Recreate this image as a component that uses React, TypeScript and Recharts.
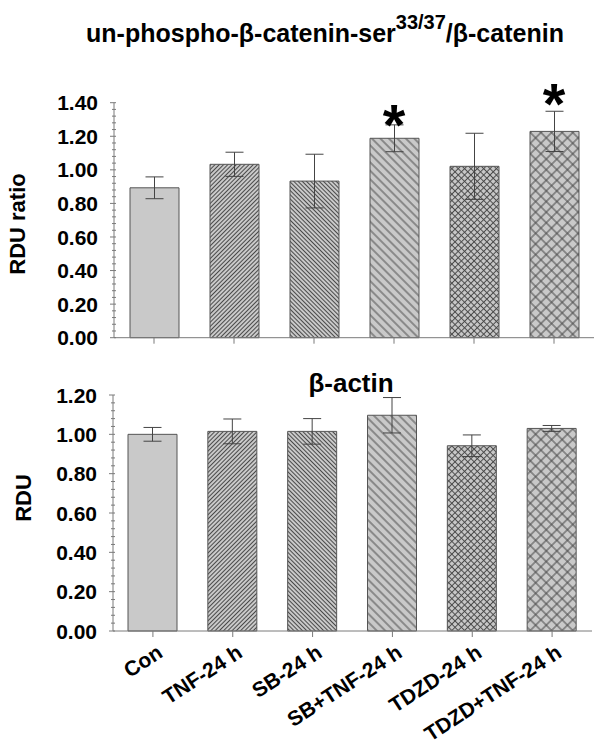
import React from 'react';
import { BarChart, Bar, XAxis, YAxis, Cell, ErrorBar, ReferenceDot } from 'recharts';

const categories = ['Con', 'TNF-24 h', 'SB-24 h', 'SB+TNF-24 h', 'TDZD-24 h', 'TDZD+TNF-24 h'];
const ratioMean = [0.893, 1.033, 0.933, 1.188, 1.021, 1.229];
const ratioErr = [0.065, 0.072, 0.16, 0.08, 0.197, 0.12];
const starPos = [null, null, null, 1.346, null, 1.469];
const actinMean = [1.0, 1.015, 1.015, 1.097, 0.942, 1.03];
const actinErr = [0.035, 0.063, 0.065, 0.09, 0.055, 0.015];
const topMajorTicks = [0, 0.2, 0.4, 0.6, 0.8, 1.0, 1.2, 1.4];
const bottomMajorTicks = [0, 0.2, 0.4, 0.6, 0.8, 1.0, 1.2];

const FONT = "'Liberation Sans', Arial, Helvetica, sans-serif";
const AXIS = '#7a7a7a';
const BG = '#c9c9c9';
const INK = '#4a4a4a';

const withMinor = (majors: number[]) => {
  const out: number[] = [];
  for (let i = 0; i < majors.length - 1; i++) {
    for (let k = 0; k < 5; k++) out.push(Math.round((majors[i] + (majors[i + 1] - majors[i]) * k / 5) * 1000) / 1000);
  }
  out.push(majors[majors.length - 1]);
  return out;
};
const topTicks = withMinor(topMajorTicks);
const bottomTicks = withMinor(bottomMajorTicks);

const topData = categories.map((name, i) => ({ name, value: ratioMean[i], err: ratioErr[i] }));
const bottomData = categories.map((name, i) => ({ name, value: actinMean[i], err: actinErr[i] }));

const Patterns = ({ p }: { p: string }) => {
  const hatch = (id: string, size: number, angle: number, cross: boolean) => (
    <pattern id={id} key={id} patternUnits="userSpaceOnUse" width={size} height={size} patternTransform={`rotate(${angle})`}>
      <rect x={0} y={0} width={size} height={size} fill={BG} />
      <line x1={size / 2} y1={0} x2={size / 2} y2={size} stroke={INK} strokeWidth={1} />
      {cross ? <line x1={0} y1={size / 2} x2={size} y2={size / 2} stroke={INK} strokeWidth={1} /> : null}
    </pattern>
  );
  return (
    <defs>
      {hatch(`${p}1`, 3, 45, false)}
      {hatch(`${p}2`, 3, -45, false)}
      {hatch(`${p}3`, 6, -45, false)}
      {hatch(`${p}4`, 4.5, 45, true)}
      {hatch(`${p}5`, 7.5, 45, true)}
    </defs>
  );
};
const fillFor = (p: string, i: number) => (i === 0 ? BG : `url(#${p}${i})`);

const YTick = (props: any) => {
  const { x, y, payload } = props;
  const ax = x + 16;
  const v = payload.value;
  const major = Math.abs(Math.round(v * 5) - v * 5) < 1e-6;
  return (
    <g>
      <line x1={major ? ax - 4 : ax - 2} y1={y} x2={ax + 2} y2={y} stroke={AXIS} strokeWidth={1} />
      {major ? (
        <text x={x} y={y} dy="0.36em" textAnchor="end" fontFamily={FONT} fontWeight="bold" fontSize={21} fill="#000">
          {v.toFixed(2)}
        </text>
      ) : null}
    </g>
  );
};

const XTick = (props: any) => {
  const { x, y, payload } = props;
  return (
    <g transform={`translate(${x + 11},${y + 15}) rotate(-33)`}>
      <text x={0} y={0} textAnchor="end" fontFamily={FONT} fontWeight="bold" fontSize={21} fill="#000">
        {payload.value}
      </text>
    </g>
  );
};

const Star = (props: any) => (
  <text x={props.cx} y={props.cy + 33} textAnchor="middle" fontFamily={FONT} fontWeight="bold" fontSize={58} fill="#000">
    *
  </text>
);

export default function App() {
  return (
    <div style={{ position: 'absolute', left: 0, top: 0, width: 601, height: 756, background: '#fff' }}>
      <div style={{ position: 'absolute', left: 0, top: 0 }}>
        <BarChart width={601} height={360} data={topData} margin={{ top: 102.7, right: 7, bottom: 2.3, left: 0 }} barSize={49}>
          <Patterns p="tp" />
          <XAxis dataKey="name" height={20} interval={0} tickSize={6} tickLine={{ stroke: AXIS }} axisLine={{ stroke: AXIS }} tick={() => <g />} />
          <YAxis width={114} type="number" domain={[0, 1.4]} ticks={topTicks} interval={0} tickSize={0} tickMargin={16} tickLine={false} axisLine={{ stroke: AXIS }} tick={<YTick />} />
          <Bar dataKey="value" stroke="#555" strokeWidth={1} isAnimationActive={false}>
            {topData.map((d, i) => (
              <Cell key={d.name} fill={fillFor('tp', i)} />
            ))}
            <ErrorBar dataKey="err" width={9} stroke="#444" strokeWidth={1} />
          </Bar>
          {starPos.map((s, i) =>
            s == null ? null : <ReferenceDot key={i} x={categories[i]} y={s} r={0} ifOverflow="visible" shape={(p: any) => <Star {...p} />} />
          )}
        </BarChart>
      </div>
      <div style={{ position: 'absolute', left: 0, top: 360 }}>
        <BarChart width={601} height={396} data={bottomData} margin={{ top: 35, right: 9, bottom: 5, left: 0 }} barSize={49}>
          <Patterns p="bp" />
          <XAxis dataKey="name" height={120} interval={0} tickSize={6} tickMargin={4} tickLine={{ stroke: AXIS }} axisLine={{ stroke: AXIS }} tick={<XTick />} />
          <YAxis width={113} type="number" domain={[0, 1.2]} ticks={bottomTicks} interval={0} tickSize={0} tickMargin={16} tickLine={false} axisLine={{ stroke: AXIS }} tick={<YTick />} />
          <Bar dataKey="value" stroke="#555" strokeWidth={1} isAnimationActive={false}>
            {bottomData.map((d, i) => (
              <Cell key={d.name} fill={fillFor('bp', i)} />
            ))}
            <ErrorBar dataKey="err" width={9} stroke="#444" strokeWidth={1} />
          </Bar>
        </BarChart>
      </div>
      <svg width={601} height={756} style={{ position: 'absolute', left: 0, top: 0, pointerEvents: 'none' }}>
        <text x={325} y={42} textAnchor="middle" fontFamily={FONT} fontWeight="bold" fontSize={25} fill="#000">
          un-phospho-β-catenin-ser
          <tspan fontSize={20} dy={-13}>33/37</tspan>
          <tspan fontSize={25} dy={13}>/β-catenin</tspan>
        </text>
        <text x={351} y={392} textAnchor="middle" fontFamily={FONT} fontWeight="bold" fontSize={26} fill="#000">
          β-actin
        </text>
        <text transform="translate(25,224) rotate(-90)" textAnchor="middle" fontFamily={FONT} fontWeight="bold" fontSize={22} fill="#000">
          RDU ratio
        </text>
        <text transform="translate(31,498) rotate(-90)" textAnchor="middle" fontFamily={FONT} fontWeight="bold" fontSize={22} fill="#000">
          RDU
        </text>
      </svg>
    </div>
  );
}
